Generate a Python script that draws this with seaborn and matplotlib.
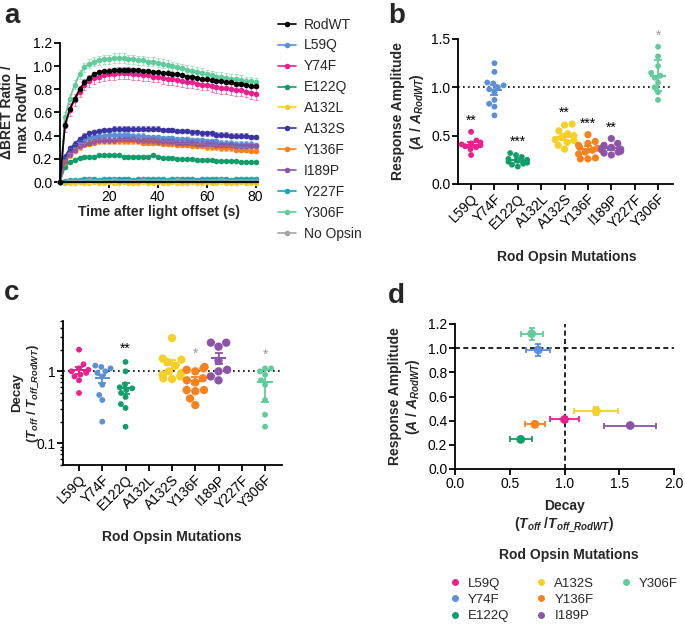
import numpy as np
import pandas as pd
import matplotlib
matplotlib.use("Agg")
import matplotlib.pyplot as plt
import seaborn as sns
from matplotlib.lines import Line2D
from matplotlib.ticker import LogLocator, NullFormatter

# ---- panel a: BRET time courses (every 2 s) ----
time_s = np.arange(0, 82, 2)

rodwt = [0,
         0.49, 0.63, 0.72, 0.80, 0.86, 0.90, 0.93, 0.95, 0.96, 0.96,
         0.965, 0.97, 0.97, 0.97, 0.97, 0.965, 0.96, 0.96, 0.95, 0.95,
         0.94, 0.94, 0.93, 0.93, 0.92, 0.91, 0.91, 0.90, 0.89, 0.89,
         0.88, 0.87, 0.87, 0.86, 0.86, 0.85, 0.85, 0.84, 0.83, 0.83]
l59q_t = [0,
          0.20, 0.27, 0.31, 0.34, 0.36, 0.38, 0.39, 0.40, 0.40, 0.41,
          0.41, 0.41, 0.41, 0.41, 0.40, 0.40, 0.40, 0.39, 0.39, 0.39,
          0.38, 0.38, 0.38, 0.37, 0.37, 0.37, 0.36, 0.36, 0.36, 0.35,
          0.35, 0.35, 0.34, 0.34, 0.34, 0.33, 0.33, 0.33, 0.33, 0.32]
y74f_t = [0,
          0.48, 0.62, 0.71, 0.78, 0.84, 0.87, 0.90, 0.91, 0.92, 0.93,
          0.93, 0.94, 0.94, 0.94, 0.93, 0.93, 0.92, 0.92, 0.91, 0.91,
          0.90, 0.89, 0.89, 0.88, 0.87, 0.86, 0.86, 0.85, 0.84, 0.84,
          0.83, 0.82, 0.81, 0.81, 0.80, 0.79, 0.79, 0.78, 0.77, 0.76]
e122q_t = [0,
           0.13, 0.17, 0.19, 0.21, 0.22, 0.22, 0.22, 0.23, 0.23, 0.23,
           0.23, 0.23, 0.22, 0.22, 0.22, 0.22, 0.22, 0.22, 0.23, 0.22,
           0.21, 0.21, 0.21, 0.20, 0.20, 0.20, 0.20, 0.19, 0.19, 0.19,
           0.19, 0.18, 0.18, 0.18, 0.18, 0.18, 0.17, 0.17, 0.17, 0.17]
a132l_t = [0,
           -0.01, -0.01, -0.01, 0.0, -0.01, -0.01, 0.0, -0.01, -0.01, 0.0,
           -0.01, -0.01, 0.0, -0.01, -0.01, -0.01, 0.0, -0.01, -0.01, 0.0,
           -0.01, -0.01, 0.0, -0.01, -0.01, -0.01, 0.0, -0.01, -0.01, 0.0,
           -0.01, -0.01, 0.0, -0.01, -0.01, -0.01, 0.0, -0.01, -0.01, -0.01]
a132s_t = [0,
           0.22, 0.29, 0.33, 0.37, 0.40, 0.42, 0.43, 0.44, 0.45, 0.45,
           0.46, 0.46, 0.46, 0.46, 0.46, 0.46, 0.46, 0.46, 0.46, 0.46,
           0.45, 0.45, 0.45, 0.44, 0.44, 0.44, 0.43, 0.43, 0.42, 0.42,
           0.42, 0.41, 0.41, 0.41, 0.40, 0.40, 0.40, 0.40, 0.39, 0.39]
y136f_t = [0,
           0.17, 0.23, 0.27, 0.30, 0.32, 0.33, 0.34, 0.35, 0.35, 0.35,
           0.35, 0.35, 0.35, 0.35, 0.35, 0.35, 0.34, 0.34, 0.34, 0.34,
           0.33, 0.33, 0.33, 0.32, 0.32, 0.32, 0.31, 0.31, 0.31, 0.30,
           0.30, 0.30, 0.29, 0.29, 0.29, 0.28, 0.28, 0.28, 0.27, 0.27]
i189p_t = [0,
           0.18, 0.24, 0.28, 0.31, 0.33, 0.34, 0.35, 0.36, 0.36, 0.36,
           0.36, 0.37, 0.37, 0.37, 0.37, 0.36, 0.36, 0.36, 0.36, 0.35,
           0.35, 0.35, 0.35, 0.34, 0.34, 0.34, 0.34, 0.33, 0.33, 0.33,
           0.33, 0.32, 0.32, 0.32, 0.32, 0.31, 0.31, 0.31, 0.31, 0.31]
y227f_t = [0,
           0.01, 0.02, 0.02, 0.02, 0.03, 0.03, 0.03, 0.02, 0.03, 0.03,
           0.03, 0.03, 0.03, 0.03, 0.02, 0.03, 0.03, 0.03, 0.03, 0.03,
           0.03, 0.02, 0.03, 0.03, 0.03, 0.03, 0.03, 0.02, 0.03, 0.03,
           0.03, 0.03, 0.03, 0.03, 0.02, 0.03, 0.03, 0.03, 0.03, 0.03]
y306f_t = [0,
           0.56, 0.72, 0.84, 0.93, 0.99, 1.02, 1.04, 1.05, 1.06, 1.06,
           1.07, 1.07, 1.07, 1.06, 1.06, 1.05, 1.05, 1.04, 1.04, 1.03,
           1.02, 1.01, 1.00, 0.99, 0.98, 0.97, 0.96, 0.95, 0.94, 0.93,
           0.92, 0.91, 0.91, 0.90, 0.89, 0.89, 0.88, 0.87, 0.87, 0.86]
noopsin_t = [0,
             0.0, 0.01, 0.01, 0.01, 0.01, 0.02, 0.01, 0.01, 0.01, 0.01,
             0.02, 0.01, 0.01, 0.01, 0.01, 0.01, 0.02, 0.01, 0.01, 0.01,
             0.01, 0.01, 0.01, 0.02, 0.01, 0.01, 0.01, 0.01, 0.01, 0.01,
             0.01, 0.01, 0.02, 0.01, 0.01, 0.01, 0.01, 0.01, 0.01, 0.01]

a_names = ["RodWT", "L59Q", "Y74F", "E122Q", "A132L", "A132S",
           "Y136F", "I189P", "Y227F", "Y306F", "No Opsin"]
a_series = [rodwt, l59q_t, y74f_t, e122q_t, a132l_t, a132s_t,
            y136f_t, i189p_t, y227f_t, y306f_t, noopsin_t]
a_sem = [0.01, 0.02, 0.05, 0.01, 0.006, 0.02, 0.02, 0.02, 0.01, 0.04, 0.01]
a_colors = ["#000000", "#5b8fd8", "#ec1f8c", "#119e6b", "#f5d02a", "#3b35a3",
            "#f7821e", "#8c55a8", "#17a5b8", "#61cb9b", "#a3a3a3"]

# ---- panel b: response amplitude per cell ----
mut_order = ["L59Q", "Y74F", "E122Q", "A132L", "A132S",
             "Y136F", "I189P", "Y227F", "Y306F"]
amp_l59q = [0.54, 0.45, 0.43, 0.42, 0.41, 0.40, 0.39, 0.38, 0.36, 0.30]
amp_y74f = [1.25, 1.16, 1.05, 1.04, 1.02, 1.00, 0.98, 0.95, 0.87, 0.83, 0.80, 0.71]
amp_e122q = [0.32, 0.30, 0.28, 0.26, 0.25, 0.24, 0.23, 0.22, 0.21, 0.20, 0.18]
amp_a132s = [0.62, 0.61, 0.55, 0.52, 0.50, 0.48, 0.46, 0.45, 0.43, 0.40, 0.36]
amp_y136f = [0.51, 0.44, 0.42, 0.40, 0.38, 0.37, 0.35, 0.33, 0.31, 0.27, 0.26, 0.26]
amp_i189p = [0.47, 0.42, 0.40, 0.38, 0.37, 0.36, 0.35, 0.34, 0.33, 0.32, 0.30]
amp_y306f = [1.42, 1.32, 1.22, 1.15, 1.12, 1.10, 1.05, 1.00, 0.95, 0.87]
amp_err = [0.03, 0.05, 0.02, 0, 0.03, 0.03, 0.02, 0, 0.16]
amp_stars = ["**", "", "***", "", "**", "***", "**", "", "*"]

# ---- panel c: decay per cell ----
dec_l59q = [2.0, 1.25, 1.1, 1.05, 1.0, 0.95, 0.9, 0.85, 0.75, 0.5]
dec_y74f = [1.2, 1.15, 1.1, 1.0, 0.95, 0.85, 0.65, 0.47, 0.4, 0.2]
dec_e122q = [1.35, 1.0, 0.66, 0.6, 0.58, 0.55, 0.5, 0.44, 0.35, 0.31, 0.17]
dec_a132s = [2.9, 1.5, 1.45, 1.35, 1.2, 1.0, 0.95, 0.9, 0.85, 0.8, 0.78]
dec_y136f = [1.15, 1.1, 1.05, 1.0, 0.8, 0.75, 0.7, 0.55, 0.55, 0.53, 0.42, 0.34]
dec_i189p = [2.5, 2.5, 2.2, 1.4, 1.05, 1.0, 0.85, 0.75]
dec_y306f = [1.1, 1.1, 1.0, 0.9, 0.75, 0.65, 0.4, 0.25, 0.17]
dec_err = [0.12, 0.1, 0.1, 0, 0.18, 0.08, 0.25, 0, 0.33]
dec_stars = ["", "", "**", "", "", "*", "", "", "*"]

star_colors = {"*": "#999999"}

# ---- panel d: mean decay vs mean amplitude ----
d_names = ["L59Q", "Y74F", "E122Q", "A132S", "Y136F", "I189P", "Y306F"]
d_decay = [1.00, 0.76, 0.60, 1.29, 0.73, 1.60, 0.70]
d_decay_err = [0.13, 0.11, 0.10, 0.20, 0.09, 0.24, 0.10]
d_amp = [0.41, 0.985, 0.245, 0.48, 0.37, 0.36, 1.12]
d_amp_err = [0.02, 0.05, 0.01, 0.03, 0.02, 0.015, 0.05]

mut_colors = {"L59Q": "#ec1f8c", "Y74F": "#5b8fd8", "E122Q": "#119e6b",
              "A132L": "#f5d02a", "A132S": "#f5d02a", "Y136F": "#f7821e",
              "I189P": "#8c55a8", "Y227F": "#17a5b8", "Y306F": "#61cb9b"}
big_dots = ["A132S", "Y136F", "I189P"]

sns.set_theme(style="ticks")
plt.rcParams['font.family'] = ['Liberation Sans', 'DejaVu Sans']
plt.rcParams['mathtext.fontset'] = 'custom'
plt.rcParams['mathtext.it'] = 'Liberation Sans:bold:italic'
plt.rcParams['mathtext.rm'] = 'Liberation Sans:bold'
plt.rcParams['mathtext.bf'] = 'Liberation Sans:bold'
plt.rcParams['axes.linewidth'] = 1.3
plt.rcParams['xtick.major.width'] = 1.3
plt.rcParams['ytick.major.width'] = 1.3
plt.rcParams['xtick.major.size'] = 4
plt.rcParams['ytick.major.size'] = 4
plt.rcParams['xtick.major.pad'] = 1.5
plt.rcParams['ytick.major.pad'] = 1.5
plt.rcParams['xtick.labelsize'] = 10
plt.rcParams['ytick.labelsize'] = 10
plt.rcParams['axes.edgecolor'] = 'black'
plt.rcParams['xtick.color'] = 'black'
plt.rcParams['ytick.color'] = 'black'

fig = plt.figure(figsize=(6.85, 6.31), dpi=100)

def fx(px):
    return px / 685

def fy(py):
    return 1 - py / 631

lab_kw = dict(fontsize=10, fontweight='bold')

# ===== panel a =====
ax_a = fig.add_axes([fx(60), fy(182), fx(258 - 60), fy(43) - fy(182)])
df_a = pd.concat([pd.DataFrame({"time": time_s, "ratio": vals, "construct": nm})
                  for nm, vals in zip(a_names, a_series)])
pal_a = dict(zip(a_names, a_colors))
sns.lineplot(data=df_a, x="time", y="ratio", hue="construct", hue_order=a_names,
             palette=pal_a, marker="o", markersize=4, markeredgewidth=0,
             linewidth=1.2, legend=False, ax=ax_a)
for ln, nm in zip(ax_a.lines[:len(a_names)], a_names):
    ln.set_clip_on(False)
    if nm == "RodWT":
        ln.set_zorder(5)
for nm, vals, err in zip(a_names, a_series, a_sem):
    ax_a.errorbar(time_s[1:], vals[1:], yerr=err, fmt='none', ecolor=pal_a[nm],
                  alpha=0.5, elinewidth=0.8, capsize=1.5, capthick=0.8, clip_on=False)
ax_a.set_xlim(0, 81)
ax_a.set_ylim(0, 1.2)
ax_a.set_xticks([20, 40, 60, 80])
ax_a.set_yticks(np.arange(0, 1.21, 0.2))
ax_a.set_yticklabels([f"{v:.1f}" for v in np.arange(0, 1.21, 0.2)])
ax_a.set_xlabel("Time after light offset (s)", labelpad=1, **lab_kw)
ax_a.set_ylabel("ΔBRET Ratio /\nmax RodWT", labelpad=2, **lab_kw)
sns.despine(ax=ax_a)
handles_a = [Line2D([], [], color=c, marker='o', markersize=4, markeredgewidth=0, lw=1.2)
             for c in a_colors]
fig.legend(handles_a, a_names, loc="upper left", bbox_to_anchor=(fx(272), fy(12)),
           frameon=False, fontsize=10, handlelength=1.3, handletextpad=0.6,
           labelspacing=0.5, borderaxespad=0)

# ===== panel b =====
ax_b = fig.add_axes([fx(458), fy(184), fx(673 - 458), fy(39) - fy(184)])
amp_lists = {"L59Q": amp_l59q, "Y74F": amp_y74f, "E122Q": amp_e122q,
             "A132S": amp_a132s, "Y136F": amp_y136f, "I189P": amp_i189p,
             "Y306F": amp_y306f}
df_b = pd.concat([pd.DataFrame({"mutation": k, "value": v}) for k, v in amp_lists.items()])
ax_b.axhline(1.0, color='black', ls=(0, (1, 2)), lw=1.2, zorder=0)
sns.swarmplot(data=df_b[~df_b.mutation.isin(big_dots)], x="mutation", y="value",
              order=mut_order, hue="mutation", palette=mut_colors, size=4.2,
              legend=False, ax=ax_b)
sns.swarmplot(data=df_b[df_b.mutation.isin(big_dots)], x="mutation", y="value",
              order=mut_order, hue="mutation", palette=mut_colors, size=5.2,
              legend=False, ax=ax_b)
means_b = df_b.groupby("mutation")["value"].mean()
for i, m in enumerate(mut_order):
    if m not in means_b:
        continue
    mu = means_b[m]
    ax_b.hlines(mu, i - 0.33, i + 0.33, color=mut_colors[m], lw=1.5, zorder=4)
    ax_b.errorbar(i, mu, yerr=amp_err[i], color=mut_colors[m], capsize=3,
                  elinewidth=1.3, capthick=1.3, zorder=4)
    if amp_stars[i]:
        ax_b.text(i, max(amp_lists[m]) + 0.04, amp_stars[i], ha='center', va='bottom',
                  fontsize=10, color=star_colors.get(amp_stars[i], 'black'), clip_on=False)
ax_b.set_xlim(-0.56, 8.64)
ax_b.set_ylim(0, 1.5)
ax_b.set_yticks([0, 0.5, 1.0, 1.5])
ax_b.set_yticklabels(["0.0", "0.5", "1.0", "1.5"])
ax_b.set_xticks(range(len(mut_order)))
ax_b.set_xticklabels(mut_order, rotation=45, ha='right', rotation_mode='anchor')
ax_b.set_xlabel("")
ax_b.set_ylabel("Response Amplitude\n($A$ / $A_{RodWT}$)", labelpad=4, **lab_kw)
sns.despine(ax=ax_b)
fig.text(fx(567), fy(257), "Rod Opsin Mutations", ha='center', va='center', **lab_kw)

# ===== panel c =====
ax_c = fig.add_axes([fx(63), fy(465), fx(282 - 63), fy(321) - fy(465)])
dec_lists = {"L59Q": dec_l59q, "Y74F": dec_y74f, "E122Q": dec_e122q,
             "A132S": dec_a132s, "Y136F": dec_y136f, "I189P": dec_i189p,
             "Y306F": dec_y306f}
df_c = pd.concat([pd.DataFrame({"mutation": k, "value": v}) for k, v in dec_lists.items()])
ax_c.set_yscale('log')
ax_c.axhline(1.0, color='black', ls=(0, (1, 2)), lw=1.2, zorder=0)
sns.swarmplot(data=df_c[~df_c.mutation.isin(big_dots)], x="mutation", y="value",
              order=mut_order, hue="mutation", palette=mut_colors, size=4.2,
              legend=False, ax=ax_c)
sns.swarmplot(data=df_c[df_c.mutation.isin(big_dots)], x="mutation", y="value",
              order=mut_order, hue="mutation", palette=mut_colors, size=6,
              legend=False, ax=ax_c)
means_c = df_c.groupby("mutation")["value"].mean()
for i, m in enumerate(mut_order):
    if m not in means_c:
        continue
    mu = means_c[m]
    ax_c.hlines(mu, i - 0.33, i + 0.33, color=mut_colors[m], lw=1.5, zorder=4)
    ax_c.errorbar(i, mu, yerr=dec_err[i], color=mut_colors[m], capsize=3,
                  elinewidth=1.3, capthick=1.3, zorder=4)
    if dec_stars[i]:
        ax_c.text(i, max(dec_lists[m]) * 1.22, dec_stars[i], ha='center', va='bottom',
                  fontsize=10, color=star_colors.get(dec_stars[i], 'black'))
ax_c.set_xlim(-0.69, 8.73)
ax_c.set_ylim(0.05, 5)
ax_c.set_yticks([0.1, 1])
ax_c.set_yticklabels(["0.1", "1"])
ax_c.yaxis.set_minor_locator(LogLocator(base=10, subs=np.arange(2, 10) * 0.1, numticks=20))
ax_c.yaxis.set_minor_formatter(NullFormatter())
ax_c.tick_params(axis='y', which='minor', length=2.5, width=1.0)
ax_c.set_xticks(range(len(mut_order)))
ax_c.set_xticklabels(mut_order, rotation=45, ha='right', rotation_mode='anchor')
ax_c.set_xlabel("")
ax_c.set_ylabel("Decay\n($T_{off}$ / $T_{off\\_RodWT}$)", fontsize=9.5, fontweight='bold')
ax_c.yaxis.set_label_coords(-0.105, 0.5)
sns.despine(ax=ax_c)
fig.text(fx(172), fy(537), "Rod Opsin Mutations", ha='center', va='center', **lab_kw)

# ===== panel d =====
ax_d = fig.add_axes([fx(455), fy(469), fx(674 - 455), fy(324) - fy(469)])
df_d = pd.DataFrame({"mutation": d_names, "decay": d_decay, "amp": d_amp})
ax_d.axhline(1.0, color='black', ls=(0, (3, 2)), lw=1.2, zorder=0)
ax_d.axvline(1.0, color='black', ls=(0, (3, 2)), lw=1.2, zorder=0)
for nm, x, xe, y, ye in zip(d_names, d_decay, d_decay_err, d_amp, d_amp_err):
    ax_d.errorbar(x, y, xerr=xe, yerr=ye, fmt='none', ecolor=mut_colors[nm],
                  elinewidth=1.3, capsize=2, capthick=1.3, zorder=3)
sns.scatterplot(data=df_d, x="decay", y="amp", hue="mutation", hue_order=d_names,
                palette=mut_colors, s=40, edgecolor='none', zorder=4, legend=False, ax=ax_d)
ax_d.set_xlim(0, 2.0)
ax_d.set_ylim(0, 1.2)
ax_d.set_xticks([0, 0.5, 1.0, 1.5, 2.0])
ax_d.set_xticklabels(["0.0", "0.5", "1.0", "1.5", "2.0"])
ax_d.set_yticks(np.arange(0, 1.21, 0.2))
ax_d.set_yticklabels([f"{v:.1f}" for v in np.arange(0, 1.21, 0.2)])
ax_d.set_xlabel("Decay\n($T_{off}$ /$T_{off\\_RodWT}$)", labelpad=6, **lab_kw)
ax_d.set_ylabel("Response Amplitude\n($A$ / $A_{RodWT}$)", labelpad=4, **lab_kw)
sns.despine(ax=ax_d)

# legend: 3 per column, last column only Y306F (pad with blanks)
handles_d = [Line2D([], [], ls='none', marker='o', markersize=5, markeredgewidth=0,
                    color=mut_colors[nm]) for nm in d_names]
labels_d = list(d_names)
handles_d += [Line2D([], [], ls='none', alpha=0)] * 2
labels_d += ["", ""]
fig.legend(handles_d, labels_d, loc="upper left", bbox_to_anchor=(fx(443), fy(572)),
           ncol=3, frameon=False, fontsize=9.5, columnspacing=1.9, handlelength=1.0,
           handletextpad=0.5, labelspacing=0.32, borderaxespad=0)
fig.text(fx(569), fy(555), "Rod Opsin Mutations", ha='center', va='center', **lab_kw)

# panel letters
for letter, (px, py) in {"a": (4, 3), "b": (388, 3), "c": (4, 280), "d": (388, 283)}.items():
    fig.text(fx(px), fy(py), letter, fontsize=20, fontweight='bold', va='top', ha='left')

fig.savefig("out.png", dpi=100)
